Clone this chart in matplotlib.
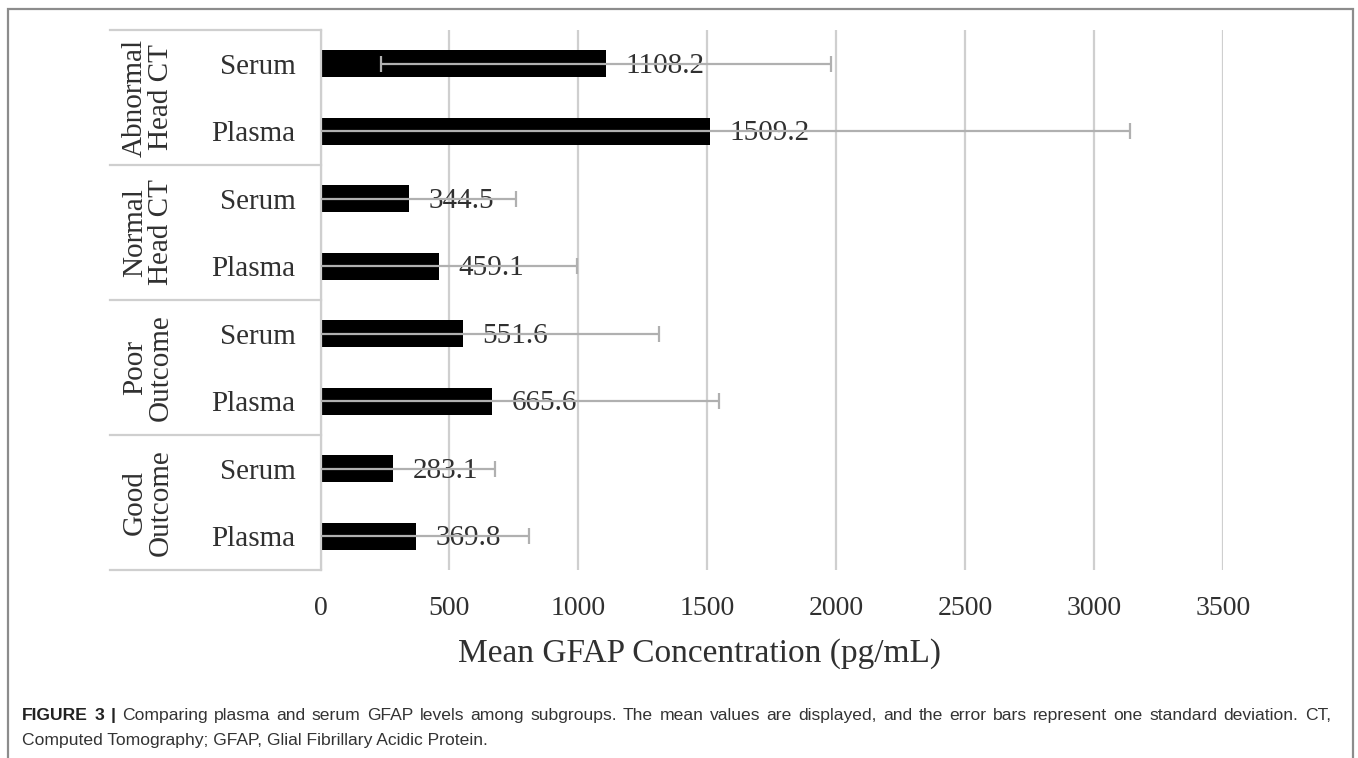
import numpy as np
import matplotlib
matplotlib.use("Agg")
import matplotlib.pyplot as plt
from matplotlib.transforms import blended_transform_factory
from matplotlib.patches import Rectangle

# groups from bottom to top, each with a Plasma row (lower) and a Serum row (upper)
groups = ["Good\nOutcome", "Poor\nOutcome", "Normal\nHead CT", "Abnormal\nHead CT"]
row_names = ["Plasma", "Serum"]
plasma_mean = [369.8, 665.6, 459.1, 1509.2]
serum_mean = [283.1, 551.6, 344.5, 1108.2]
plasma_sd = [440, 881, 535, 1631]
serum_sd = [394, 763, 412, 872]
x_ticks = [0, 500, 1000, 1500, 2000, 2500, 3000, 3500]
x_label = "Mean GFAP Concentration (pg/mL)"
caption_bold = "FIGURE 3 |"
caption_line1 = ("Comparing plasma and serum GFAP levels among subgroups. The mean values are displayed, "
                 "and the error bars represent one standard deviation. CT,")
caption_line2 = "Computed Tomography; GFAP, Glial Fibrillary Acidic Protein."

W, H = 1358, 758
serif = "Liberation Serif"
sans = "Liberation Sans"
txt = "#303030"
grid_c = "#cfcfcf"

fig = plt.figure(figsize=(W / 100, H / 100), dpi=100)
fig.patch.set_facecolor("white")

# plot area in pixels
left, right, top, bottom = 320.5, 1222.8, 30, 570
ax = fig.add_axes([left / W, 1 - bottom / H, (right - left) / W, (bottom - top) / H])

# build the row arrays
means, sds, ypos, labels = [], [], [], []
for i in range(len(groups)):
    for j, name in enumerate(row_names):
        ypos.append(2 * i + j)
        labels.append(name)
        means.append(plasma_mean[i] if j == 0 else serum_mean[i])
        sds.append(plasma_sd[i] if j == 0 else serum_sd[i])

ax.barh(ypos, means, height=0.4, color="black", zorder=2)
ax.errorbar(means, ypos, xerr=sds, fmt="none", ecolor="#b0b0b0", elinewidth=1.6,
            capsize=6, capthick=1.6, zorder=3)

for v, y in zip(means, ypos):
    ax.annotate(f"{v:.1f}", (v, y), xytext=(14, -1.5), textcoords="offset points",
                va="center", ha="left", fontsize=21, family=serif, color=txt, zorder=1.5)

ax.set_xlim(0, 3500)
ax.set_ylim(-0.5, 7.5)
ax.set_xticks(x_ticks)
ax.set_xticklabels([str(t) for t in x_ticks], fontsize=20, family=serif, color=txt)
ax.set_yticks(ypos)
ax.set_yticklabels(labels, fontsize=21, family=serif, color=txt)
ax.tick_params(axis="x", length=0, pad=19)
ax.tick_params(axis="y", length=0, pad=18)
ax.xaxis.grid(True, color=grid_c, lw=1.6)
ax.set_axisbelow(True)
for s in ["top", "right", "bottom"]:
    ax.spines[s].set_visible(False)
ax.spines["left"].set_color(grid_c)
ax.spines["left"].set_linewidth(1.6)

# table lines and group labels on the left
tr = blended_transform_factory(fig.transFigure, ax.transData)
for yb in [-0.5, 1.5, 3.5, 5.5, 7.5]:
    ax.plot([110 / W, left / W], [yb, yb], transform=tr, color=grid_c, lw=1.6,
            clip_on=False)
for i, g in enumerate(groups):
    ax.text(148 / W, 2 * i + 0.5, g, transform=tr, rotation=90, ha="center", va="center",
            multialignment="center", linespacing=1.0, fontsize=21, family=serif, color=txt)

fig.text(700 / W, 1 - 662 / H, x_label, ha="center", va="baseline", fontsize=24,
         family=serif, color=txt)

# caption, first line justified to the frame width like the journal layout
r = fig.canvas.get_renderer()
cap_size = 12.6
x0, x1 = 22, 1331
words = [(w, "bold") for w in caption_bold.split(" ")] + \
        [(w, "normal") for w in caption_line1.split(" ")]
items = []
for w, wt in words:
    t = fig.text(0, 1 - 720 / H, w, ha="left", va="baseline", fontsize=cap_size,
                 family=sans, weight=wt, color="#222222" if wt == "bold" else "#333333")
    items.append((t, t.get_window_extent(renderer=r).width))
gap = (x1 - x0 - sum(wd for _, wd in items)) / (len(items) - 1)
xp = x0
for t, wd in items:
    t.set_x(xp / W)
    xp += wd + gap
fig.text(x0 / W, 1 - 745 / H, caption_line2, ha="left", va="baseline", fontsize=cap_size,
         family=sans, color="#333333")

# outer frame
fig.patches.append(Rectangle((8 / W, -0.05), (1353 - 8) / W, 1.05 - 9 / H,
                             transform=fig.transFigure, fill=False, edgecolor="#8c8c8c",
                             lw=1.6))

fig.savefig("out.png", dpi=100, facecolor="white")
